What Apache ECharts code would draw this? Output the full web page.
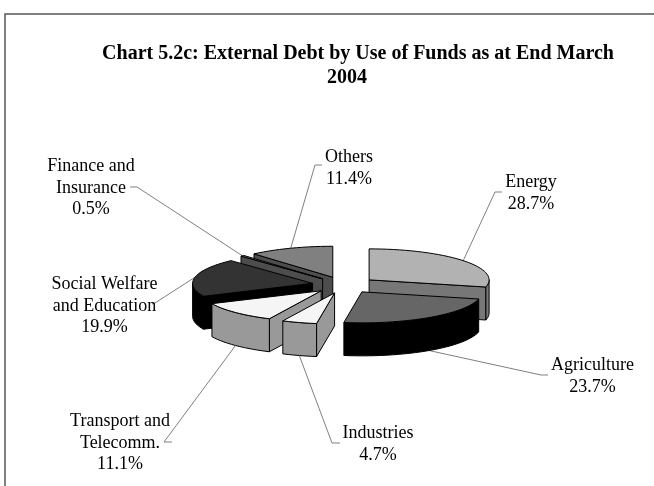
<!DOCTYPE html>
<html><head><meta charset="utf-8">
<style>html,body{margin:0;padding:0;background:#fff}#c{width:654px;height:486px}</style>
<script src="https://cdn.jsdelivr.net/npm/echarts@6/dist/echarts.min.js"></script>
</head><body><div id="c"></div>
<script>
const titleLine1 = 'Chart 5.2c: External Debt by Use of Funds as at End March';
const titleLine2 = '2004';
const categories = ['Energy','Agriculture','Industries','Transport and\nTelecomm.','Social Welfare\nand Education','Finance and\nInsurance','Others'];
const values = [28.7,23.7,4.7,11.1,19.9,0.5,11.4];
const topColors  = ['#b2b2b2','#666666','#f5f5f5','#f5f5f5','#333333','#808080','#808080'];
const sideColors = ['#777777','#000000','#999999','#999999','#000000','#4d4d4d','#4d4d4d'];
// paint order, back to front
const paintOrder = [6,5,0,4,3,1,2];
// label centre (x, y of first line) and the elbow tick the leader line leaves from
const labelCentres = [[531,183],[592.5,366],[378,434],[120,422],[104.5,285],[91,167],[349,158]];
const labelTicks = [[[502,192],[495,192]],[[548,375],[541,375]],[[340,443],[332,443]],[[172,442],[164,442]],[[152,304],[155,303]],[[130,187],[137,187]],[[322,165],[315,165]]];

const CX=344, CY=285, RX=120, RY=31, DEPTH=33, EXPLODE=32, TILT=RY/RX;
const total = values.reduce((a,b)=>a+b,0);
const rad = d=>d*Math.PI/180;
let acc=0;
const slices = values.map(v=>{const a0=acc/total*360; acc+=v; const a1=acc/total*360; return {a0,a1,mid:(a0+a1)/2};});

function pt(c,a,dy){return [c[0]+RX*Math.sin(rad(a)), c[1]-RY*Math.cos(rad(a))+(dy||0)];}
function arc(c,a0,a1,dy){const n=Math.max(2,Math.ceil(Math.abs(a1-a0)/3)),o=[];for(let i=0;i<=n;i++)o.push(pt(c,a0+(a1-a0)*i/n,dy));return o;}
const edge={stroke:'#000',lineWidth:1,lineJoin:'round'};

function renderItem(params){
  const i=paintOrder[params.dataIndex], s=slices[i], top=topColors[i], side=sideColors[i];
  const m=rad(s.mid);
  const c=[CX+EXPLODE*Math.sin(m), CY-EXPLODE*TILT*Math.cos(m)];
  const kids=[];
  const poly=(points,fill)=>kids.push({type:'polygon',shape:{points},style:Object.assign({fill},edge)});
  // leader line
  const anchor=pt(c,s.mid,Math.cos(m)<0?DEPTH:0);
  kids.push({type:'polyline',shape:{points:[...labelTicks[i],anchor]},style:{stroke:'#808080',lineWidth:1,fill:null}});
  // radial wall facing the viewer
  if(Math.sin(rad(s.a0))<-1e-6){const p=pt(c,s.a0);poly([c,p,[p[0],p[1]+DEPTH],[c[0],c[1]+DEPTH]],side);}
  if(Math.sin(rad(s.a1))>1e-6){const p=pt(c,s.a1);poly([c,p,[p[0],p[1]+DEPTH],[c[0],c[1]+DEPTH]],side);}
  // outer wall (front half of the rim)
  const r0=Math.max(s.a0,90), r1=Math.min(s.a1,270);
  if(r1>r0){poly([...arc(c,r0,r1,0),...arc(c,r1,r0,DEPTH)],side);}
  // top face
  poly([c,...arc(c,s.a0,s.a1,0)],top);
  // label
  const val=values[i].toFixed(1)+'%';
  kids.push({type:'text',style:{text:categories[i]+'\n'+val,x:labelCentres[i][0],y:labelCentres[i][1]-11,align:'center',verticalAlign:'top',lineHeight:21.5,fill:'#000',font:'18px "Liberation Serif"'}});
  return {type:'group',children:kids};
}
const chart=echarts.init(document.getElementById('c'),null,{renderer:'canvas'});
chart.setOption({
  animation:false,
  backgroundColor:'#fff',
  graphic:[{type:'rect',shape:{x:5,y:14,width:900,height:700},style:{fill:null,stroke:'#555',lineWidth:1.5},silent:true}],
  title:[
    {text:titleLine1,left:353,top:39,textAlign:'center',textStyle:{fontFamily:'Liberation Serif',fontWeight:'bold',fontSize:20,color:'#000'}},
    {text:titleLine2,left:342,top:63,textAlign:'center',textStyle:{fontFamily:'Liberation Serif',fontWeight:'bold',fontSize:20,color:'#000'}}
  ],
  series:[{type:'custom',coordinateSystem:'none',renderItem,data:paintOrder.map(i=>values[i]),silent:true}]
});
</script></body></html>
